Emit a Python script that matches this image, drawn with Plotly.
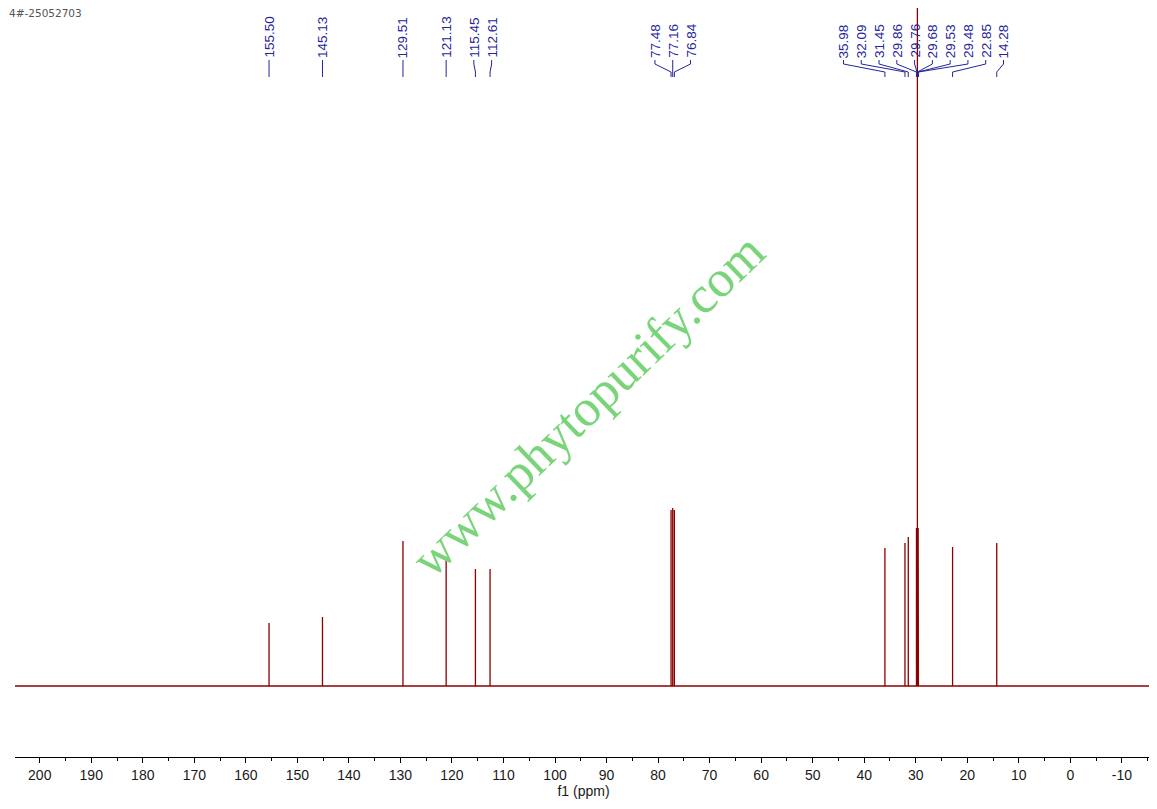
import plotly.graph_objects as go

# ---------------- data ----------------
peaks_ppm = [155.50, 145.13, 129.51, 121.13, 115.45, 112.61,
             77.48, 77.16, 76.84,
             35.98, 32.09, 31.45, 29.86, 29.76, 29.68, 29.53, 29.48, 22.85, 14.28]
peak_heights = [63, 69, 145, 129, 117, 117,
                176, 178, 176,
                138, 143, 149, 158, 158, 1500, 158, 158, 139, 143]
peak_labels = ["%.2f" % p for p in peaks_ppm]
x_tick_values = [200, 190, 180, 170, 160, 150, 140, 130, 120, 110, 100,
                 90, 80, 70, 60, 50, 40, 30, 20, 10, 0, -10]
x_tick_labels = [str(v) for v in x_tick_values]
sample_id = "4#-25052703"
x_title = "f1 (ppm)"
watermark = "www.phytopurify.com"

# ---------------- layout constants ----------------
# the page body has an 8px margin, so the figure starts at page (8, 8)
OFF = 8
W, H = 1157 - OFF, 809 - OFF
PLOT_TOP, PLOT_BOTTOM = 8, 757          # page rows
PLOT_LEFT, PLOT_RIGHT = 15, 1152        # page columns
ML = PLOT_LEFT - OFF
MR = W - (PLOT_RIGHT - OFF)
MT = PLOT_TOP - OFF
MB = H - (PLOT_BOTTOM - OFF)
PLOT_H = PLOT_BOTTOM - PLOT_TOP
PLOT_W = PLOT_RIGHT - PLOT_LEFT
BASE_ROW = 686
X_RANGE = [204.8, -15.85]
Y_RANGE = [-(PLOT_BOTTOM - BASE_ROW), BASE_ROW - PLOT_TOP]
SPEC_COLOR = "#8B0000"
LABEL_COLOR = "#24249a"
LABEL_SPACING = 3.45           # ppm between neighbouring labels


def paper_y(row):
    return (PLOT_BOTTOM - row) / PLOT_H


def paper_x(col):
    return (col - PLOT_LEFT) / PLOT_W


# ---------------- spectrum trace ----------------
xs, ys = [X_RANGE[0]], [0]
for p, h in sorted(zip(peaks_ppm, peak_heights), key=lambda t: -t[0]):
    xs += [p, p, p]
    ys += [0, h, 0]
xs.append(X_RANGE[1])
ys.append(0)

fig = go.Figure()
fig.add_trace(go.Scatter(x=xs, y=ys, mode="lines",
                         line=dict(color=SPEC_COLOR, width=1.3),
                         hoverinfo="skip", showlegend=False))

# ---------------- label placement (cluster & spread) ----------------
order = sorted(range(len(peaks_ppm)), key=lambda i: -peaks_ppm[i])
clusters = [[i] for i in order]


def place(cl):
    c = sum(peaks_ppm[i] for i in cl) / len(cl)
    n = len(cl)
    return [c + (n - 1) / 2 * LABEL_SPACING - k * LABEL_SPACING for k in range(n)]


changed = True
while changed:
    changed = False
    pos = [place(c) for c in clusters]
    for k in range(len(clusters) - 1):
        if pos[k][-1] - pos[k + 1][0] < LABEL_SPACING - 1e-9:
            clusters[k] = clusters[k] + clusters[k + 1]
            del clusters[k + 1]
            changed = True
            break

label_x = {}
for c in clusters:
    for i, lx in zip(c, place(c)):
        label_x[i] = lx

# connectors on an overlay axis measured in page rows
cx, cy = [], []
for i in order:
    lx, px = label_x[i], peaks_ppm[i]
    cx += [lx, lx, px, px, None]
    cy += [60, 64, 72, 77, None]
fig.add_trace(go.Scatter(x=cx, y=cy, mode="lines", yaxis="y2",
                         line=dict(color=LABEL_COLOR, width=1),
                         hoverinfo="skip", showlegend=False))

annotations = []
for i in order:
    annotations.append(dict(
        x=label_x[i], xref="x", y=paper_y(58), yref="paper",
        text=peak_labels[i], textangle=-90, showarrow=False,
        xanchor="center", yanchor="bottom", borderpad=0, borderwidth=0,
        font=dict(family="Liberation Sans, Arial, sans-serif", size=13.5,
                  color=LABEL_COLOR)))

annotations.append(dict(
    x=paper_x(9), xref="paper", y=paper_y(13), yref="paper",
    text=sample_id, showarrow=False, xanchor="left", yanchor="middle",
    borderpad=0, borderwidth=0,
    font=dict(family="DejaVu Sans, sans-serif", size=10.5, color="#555555")))

annotations.append(dict(
    x=paper_x(587), xref="paper", y=paper_y(405), yref="paper",
    text=watermark, showarrow=False, textangle=-44,
    xanchor="center", yanchor="middle",
    font=dict(family="Liberation Serif, Times New Roman, serif", size=52,
              color="#7ad47a")))

fig.update_layout(
    width=W, height=H, autosize=False,
    margin=dict(l=ML, r=MR, t=MT, b=MB, pad=0),
    paper_bgcolor="white", plot_bgcolor="white",
    showlegend=False,
    xaxis=dict(range=X_RANGE, tickmode="array", tickvals=x_tick_values,
               ticktext=x_tick_labels, ticks="outside", ticklen=5,
               tickcolor="black", tickwidth=1,
               showline=True, linecolor="black", linewidth=1,
               showgrid=False, zeroline=False, mirror=False,
               tickfont=dict(family="Liberation Sans, Arial, sans-serif",
                             size=14, color="#1a1a1a"),
               minor=dict(dtick=5, tick0=0, ticks="outside", ticklen=3,
                          tickcolor="black", showgrid=False),
               title=dict(text=x_title, standoff=2,
                          font=dict(family="Liberation Sans, Arial, sans-serif",
                                    size=14, color="#1a1a1a")),
               automargin=False),
    yaxis=dict(range=Y_RANGE, visible=False, showgrid=False, zeroline=False),
    yaxis2=dict(range=[PLOT_BOTTOM, PLOT_TOP], overlaying="y", visible=False,
                showgrid=False, zeroline=False),
    annotations=annotations,
)

fig.write_html("out.html")
